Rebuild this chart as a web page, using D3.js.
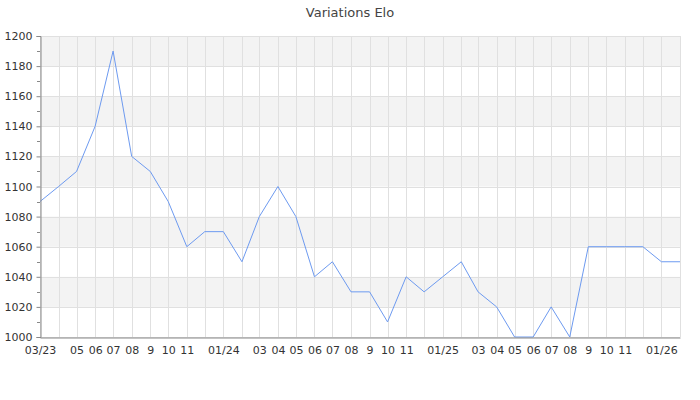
<!DOCTYPE html>
<html>
<head>
<meta charset="utf-8">
<script src="https://cdn.jsdelivr.net/npm/d3@7"></script>
<style>
  html, body { margin: 0; padding: 0; background: #fff; }
  svg { display: block; font-family: "DejaVu Sans", sans-serif; }
</style>
</head>
<body>
<svg id="chart" width="700" height="400"></svg>
<script>
const title = "Variations Elo";
const months = [
  "2023-03","2023-04","2023-05","2023-06","2023-07","2023-08","2023-09","2023-10","2023-11","2023-12",
  "2024-01","2024-02","2024-03","2024-04","2024-05","2024-06","2024-07","2024-08","2024-09","2024-10","2024-11","2024-12",
  "2025-01","2025-02","2025-03","2025-04","2025-05","2025-06","2025-07","2025-08","2025-09","2025-10","2025-11","2025-12",
  "2026-01","2026-02"
];
const elo = [
  1090,1100,1110,1140,1190,1120,1110,1090,1060,1070,
  1070,1050,1080,1100,1080,1040,1050,1030,1030,1010,1040,1030,
  1040,1050,1030,1020,1000,1000,1020,1000,1060,1060,1060,1060,
  1050,1050
];
const xTickLabels = [
  "03/23","","05","06","07","08","9","10","11","",
  "01/24","","03","04","05","06","07","08","9","10","11","",
  "01/25","","03","04","05","06","07","08","9","10","11","",
  "01/26",""
];
const yTicks = [1000,1020,1040,1060,1080,1100,1120,1140,1160,1180,1200];
const yMinorTicks = [1010,1030,1050,1070,1090,1110,1130,1150,1170,1190];

const parse = d3.timeParse("%Y-%m");
const dates = months.map(parse);
const data = dates.map((d, i) => ({ date: d, value: elo[i] }));

const svg = d3.select("#chart");
const pLeft = 40, pRight = 680, pTop = 36, pBottom = 337;

const x = d3.scaleTime().domain(d3.extent(dates)).range([pLeft, pRight]);
const y = d3.scaleLinear().domain([1000, 1200]).range([pBottom, pTop]);

// title
svg.append("text")
  .attr("x", 350).attr("y", 17)
  .attr("text-anchor", "middle")
  .attr("font-size", 13)
  .attr("fill", "#444")
  .text(title);

// alternating bands
const bands = [];
for (let i = 0; i < yTicks.length - 1; i++) {
  if (i % 2 === 1) bands.push([yTicks[i], yTicks[i + 1]]);
}
svg.append("g").selectAll("rect").data(bands).join("rect")
  .attr("x", pLeft).attr("width", pRight - pLeft)
  .attr("y", d => y(d[1])).attr("height", d => y(d[0]) - y(d[1]))
  .attr("fill", "#f3f3f3");

// horizontal grid
svg.append("g").selectAll("line").data(yTicks).join("line")
  .attr("x1", pLeft).attr("x2", pRight)
  .attr("y1", d => Math.round(y(d)) + 0.5).attr("y2", d => Math.round(y(d)) + 0.5)
  .attr("stroke", "#e0e0e0");

// vertical grid
svg.append("g").selectAll("line").data(dates).join("line")
  .attr("x1", d => Math.round(x(d)) + 0.5).attr("x2", d => Math.round(x(d)) + 0.5)
  .attr("y1", pTop).attr("y2", pBottom)
  .attr("stroke", "#e0e0e0");

// line
svg.append("path").datum(data)
  .attr("fill", "none")
  .attr("stroke", "#6d9af0")
  .attr("stroke-width", 1)
  .attr("d", d3.line().x(d => x(d.date)).y(d => y(d.value)));

// y axis
const yAxis = svg.append("g").attr("transform", `translate(${pLeft + 0.5},0)`)
  .call(d3.axisLeft(y).tickValues(yTicks).tickSize(4).tickPadding(4).tickFormat(d3.format("d")));
yAxis.select(".domain").attr("stroke", "#888");
yAxis.selectAll(".tick line").attr("stroke", "#888");
yAxis.selectAll("text").attr("font-size", 11).attr("fill", "#333").attr("font-family", "DejaVu Sans");
svg.append("g").selectAll("line").data(yMinorTicks).join("line")
  .attr("x1", pLeft - 3).attr("x2", pLeft)
  .attr("y1", d => Math.round(y(d)) + 0.5).attr("y2", d => Math.round(y(d)) + 0.5)
  .attr("stroke", "#888");

// x axis
const xAxis = svg.append("g").attr("transform", `translate(0,${pBottom + 0.5})`)
  .call(d3.axisBottom(x).tickValues(dates).tickSize(0).tickPadding(9)
    .tickFormat((d, i) => xTickLabels[i]));
xAxis.select(".domain").attr("stroke", "#888");
xAxis.selectAll("text").attr("font-size", 11).attr("fill", "#333").attr("font-family", "DejaVu Sans");
</script>
</body>
</html>
